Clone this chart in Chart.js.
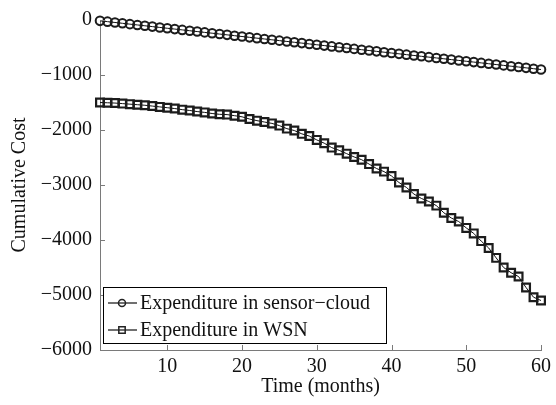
<!DOCTYPE html>
<html>
<head>
<meta charset="utf-8">
<script src="https://cdn.jsdelivr.net/npm/chart.js@4"></script>
<style>
  body { margin: 0; background: #fff; }
</style>
</head>
<body>
<canvas id="costChart" width="556" height="405"></canvas>
<script>
const months = [1, 2, 3, 4, 5, 6, 7, 8, 9, 10, 11, 12, 13, 14, 15, 16, 17, 18, 19, 20,
  21, 22, 23, 24, 25, 26, 27, 28, 29, 30, 31, 32, 33, 34, 35, 36, 37, 38, 39, 40,
  41, 42, 43, 44, 45, 46, 47, 48, 49, 50, 51, 52, 53, 54, 55, 56, 57, 58, 59, 60];

const sensorCloud = [-15, -30, -45, -60, -75, -90, -105, -120, -135, -150,
  -165, -180, -195, -210, -225, -240, -255, -270, -285, -300,
  -315, -330, -345, -360, -375, -390, -405, -420, -435, -450,
  -465, -480, -495, -510, -525, -540, -555, -570, -585, -600,
  -615, -630, -645, -660, -675, -690, -705, -720, -735, -750,
  -765, -780, -795, -810, -825, -840, -855, -870, -885, -900];

const wsn = [-1500, -1505, -1510, -1520, -1530, -1540, -1550, -1565, -1580, -1595,
  -1610, -1630, -1645, -1665, -1680, -1700, -1715, -1720, -1740, -1760,
  -1800, -1830, -1855, -1880, -1920, -1975, -2010, -2070, -2110, -2180,
  -2240, -2320, -2370, -2430, -2490, -2540, -2620, -2700, -2757, -2835,
  -2955, -3045, -3165, -3245, -3300, -3375, -3505, -3600, -3665, -3780,
  -3880, -4020, -4145, -4325, -4500, -4595, -4665, -4865, -5040, -5100];

const seriesLabels = ["Expenditure in sensor\u2212cloud", "Expenditure in WSN"];
const xTicks = [10, 20, 30, 40, 50, 60];
const yTicks = [0, -1000, -2000, -3000, -4000, -5000, -6000];

const serif = "'Liberation Serif', 'Times New Roman', serif";

function toPoints(values) {
  return months.map((m, i) => ({ x: m, y: values[i] }));
}

// inward tick marks, like the original plot
const inwardTicks = {
  id: "inwardTicks",
  afterDraw(chart) {
    const ctx = chart.ctx;
    const x = chart.scales.x, y = chart.scales.y;
    ctx.save();
    ctx.strokeStyle = "#7a7a7a";
    ctx.lineWidth = 1;
    ctx.beginPath();
    xTicks.forEach(v => {
      const px = Math.round(x.getPixelForValue(v)) + 0.5;
      ctx.moveTo(px, chart.chartArea.bottom);
      ctx.lineTo(px, chart.chartArea.bottom - 5);
    });
    yTicks.forEach(v => {
      const py = Math.round(y.getPixelForValue(v)) + 0.5;
      ctx.moveTo(chart.chartArea.left, py);
      ctx.lineTo(chart.chartArea.left + 5, py);
    });
    ctx.stroke();
    ctx.restore();
  }
};

// legend box drawn in the lower left of the plot
const boxLegend = {
  id: "boxLegend",
  afterDraw(chart) {
    const ctx = chart.ctx;
    const left = 103, top = 287, w = 283, h = 56;
    ctx.save();
    ctx.fillStyle = "#fff";
    ctx.fillRect(left, top, w, h);
    ctx.strokeStyle = "#000";
    ctx.lineWidth = 1;
    ctx.strokeRect(left + 0.5, top + 0.5, w, h);
    chart.data.datasets.forEach((ds, i) => {
      const cy = top + 16 + i * 27;
      ctx.strokeStyle = "#111";
      ctx.lineWidth = 1.2;
      ctx.beginPath();
      ctx.moveTo(108, cy);
      ctx.lineTo(137, cy);
      ctx.stroke();
      ctx.lineWidth = 1.5;
      ctx.strokeStyle = "#222";
      ctx.fillStyle = "rgba(255,255,255,0)";
      Chart.helpers.drawPoint(ctx, {
        pointStyle: ds.pointStyle,
        radius: ds.pointStyle === "rect" ? 4.5 : 3.5,
        borderWidth: 1.5
      }, 122, cy);
      ctx.fillStyle = "#111";
      ctx.font = "20px " + serif;
      ctx.textBaseline = "middle";
      ctx.textAlign = "left";
      ctx.fillText(ds.label, 140, cy + 1);
    });
    ctx.restore();
  }
};

new Chart(document.getElementById("costChart"), {
  type: "line",
  data: {
    datasets: [{
      label: seriesLabels[0],
      data: toPoints(sensorCloud),
      borderColor: "#111",
      borderWidth: 1,
      pointStyle: "circle",
      pointRadius: 4.3,
      pointBorderWidth: 2,
      pointBorderColor: "#1c1c1c",
      pointBackgroundColor: "rgba(255,255,255,0)",
      clip: false,
      fill: false
    }, {
      label: seriesLabels[1],
      data: toPoints(wsn),
      borderColor: "#111",
      borderWidth: 1,
      pointStyle: "rect",
      pointRadius: 5.5,
      pointBorderWidth: 2.2,
      pointBorderColor: "#1c1c1c",
      pointBackgroundColor: "rgba(255,255,255,0)",
      clip: false,
      fill: false
    }]
  },
  options: {
    responsive: false,
    animation: false,
    layout: { padding: { left: 0, right: 9, top: 15, bottom: 0 } },
    plugins: {
      legend: { display: false },
      tooltip: { enabled: false }
    },
    scales: {
      x: {
        type: "linear",
        min: 1,
        max: 60,
        afterBuildTicks: s => { s.ticks = xTicks.map(v => ({ value: v })); },
        afterFit: s => { s.height = 55; },
        grid: { display: false, drawTicks: false },
        border: { display: true, color: "#7a7a7a", width: 1 },
        ticks: {
          color: "#111",
          padding: 5,
          maxRotation: 0,
          font: { family: serif, size: 20 }
        },
        title: {
          display: true,
          text: "Time (months)",
          color: "#111",
          padding: { top: 0, bottom: 6 },
          font: { family: serif, size: 20 }
        }
      },
      y: {
        min: -6000,
        max: 0,
        afterBuildTicks: s => { s.ticks = yTicks.map(v => ({ value: v })); },
        afterFit: s => { s.width = 100; },
        grid: { display: false, drawTicks: false },
        border: { display: true, color: "#7a7a7a", width: 1 },
        ticks: {
          color: "#111",
          padding: 8,
          font: { family: serif, size: 20 },
          callback: v => v < 0 ? "\u2212" + Math.abs(v) : String(v)
        },
        title: {
          display: true,
          text: "Cumulative Cost",
          color: "#111",
          padding: { top: 8, bottom: 0 },
          font: { family: serif, size: 20 }
        }
      }
    }
  },
  plugins: [inwardTicks, boxLegend]
});
</script>
</body>
</html>
